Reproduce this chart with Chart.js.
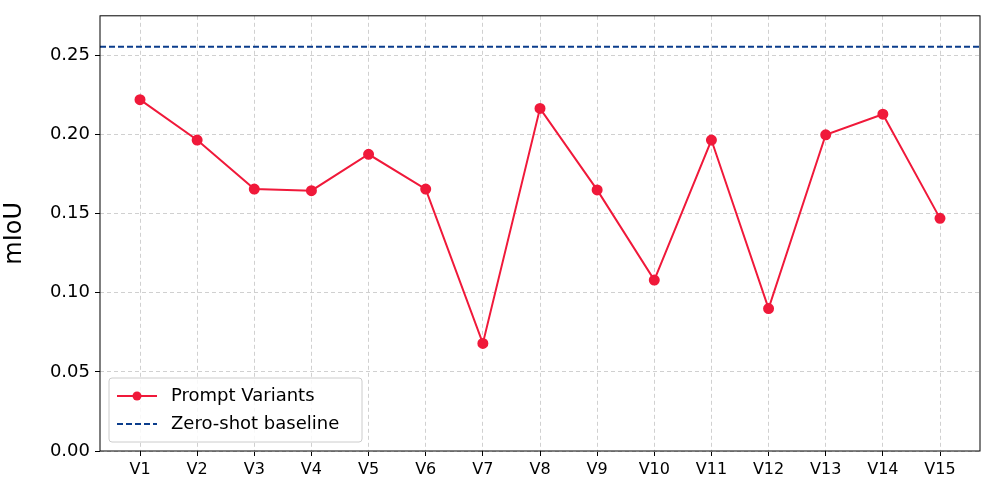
<!DOCTYPE html>
<html>
<head>
<meta charset="utf-8">
<script src="https://cdn.jsdelivr.net/npm/chart.js@4"></script>
<style>
  html, body { margin: 0; padding: 0; background: #fff; }
  #wrap { width: 989px; height: 489px; }
</style>
</head>
<body>
<div id="wrap"><canvas id="c" width="989" height="489"></canvas></div>
<script>
const variants = ['V1','V2','V3','V4','V5','V6','V7','V8','V9','V10','V11','V12','V13','V14','V15'];
const mious = [0.222, 0.1965, 0.1655, 0.1645, 0.1875, 0.1655, 0.068, 0.2165, 0.165, 0.108, 0.1965, 0.090, 0.1998, 0.2128, 0.147];
const baseline = 0.2555;
const yTicks = [0, 0.05, 0.10, 0.15, 0.20, 0.25];

const lineColor = '#f0193a';
const baseColor = '#0b3d8c';
const font = 'DejaVu Sans';

// box around the plot and legend inside bottom-left
const framePlugin = {
  id: 'frame',
  afterDraw(chart) {
    const { ctx, chartArea: a } = chart;
    ctx.save();
    ctx.strokeStyle = '#000';
    ctx.lineWidth = 1;
    ctx.strokeRect(a.left, a.top, a.right - a.left, a.bottom - a.top);

    const x = a.left + 9, y = a.bottom - 73, w = 253, h = 64;
    ctx.fillStyle = 'rgba(255,255,255,0.85)';
    ctx.strokeStyle = '#ccc';
    ctx.beginPath();
    ctx.roundRect(x, y, w, h, 3);
    ctx.fill();
    ctx.stroke();

    ctx.font = '18px ' + font;
    ctx.textBaseline = 'middle';
    ctx.fillStyle = '#000';
    let ly = y + 18;
    ctx.strokeStyle = lineColor;
    ctx.lineWidth = 2;
    ctx.setLineDash([]);
    ctx.beginPath(); ctx.moveTo(x + 8, ly); ctx.lineTo(x + 48, ly); ctx.stroke();
    ctx.fillStyle = lineColor;
    ctx.beginPath(); ctx.arc(x + 28, ly, 4.5, 0, Math.PI * 2); ctx.fill();
    ctx.fillStyle = '#000';
    ctx.fillText('Prompt Variants', x + 62, ly);
    ly = y + 46;
    ctx.strokeStyle = baseColor;
    ctx.setLineDash([6, 3]);
    ctx.beginPath(); ctx.moveTo(x + 8, ly); ctx.lineTo(x + 48, ly); ctx.stroke();
    ctx.setLineDash([]);
    ctx.fillText('Zero-shot baseline', x + 62, ly);
    ctx.restore();
  }
};

new Chart(document.getElementById('c'), {
  type: 'line',
  data: {
    datasets: [
      {
        label: 'Prompt Variants',
        data: mious.map((v, i) => ({ x: i, y: v })),
        borderColor: lineColor,
        backgroundColor: lineColor,
        borderWidth: 2,
        pointRadius: 4.5,
        pointHoverRadius: 4.5,
        tension: 0
      },
      {
        label: 'Zero-shot baseline',
        data: [{ x: -0.7, y: baseline }, { x: 14.7, y: baseline }],
        borderColor: baseColor,
        borderWidth: 2,
        borderDash: [6, 3],
        pointRadius: 0
      }
    ]
  },
  options: {
    responsive: false,
    animation: false,
    layout: { padding: { top: 5, right: 9, left: 0, bottom: 0 } },
    plugins: { legend: { display: false }, tooltip: { enabled: false } },
    scales: {
      x: {
        type: 'linear',
        min: -0.7,
        max: 14.7,
        afterBuildTicks: ax => { ax.ticks = variants.map((_, i) => ({ value: i })); },
        afterFit: ax => { ax.height = 38; },
        ticks: {
          callback: v => variants[v],
          color: '#000',
          font: { family: font, size: 16 },
          maxRotation: 0,
          padding: 4
        },
        grid: { color: '#d0d0d0', tickColor: '#000', tickLength: 5 },
        border: { display: false, dash: [4, 3] }
      },
      y: {
        min: 0,
        max: 0.275,
        afterBuildTicks: ax => { ax.ticks = yTicks.map(v => ({ value: v })); },
        afterFit: ax => { ax.width = 100; },
        ticks: {
          callback: v => v.toFixed(2),
          color: '#000',
          font: { family: font, size: 18 },
          padding: 5
        },
        title: { display: true, text: 'mIoU', color: '#000', font: { family: font, size: 24 }, padding: 0 },
        grid: { color: '#d0d0d0', tickColor: '#000', tickLength: 5 },
        border: { display: false, dash: [4, 3] }
      }
    }
  },
  plugins: [framePlugin]
});
</script>
</body>
</html>
